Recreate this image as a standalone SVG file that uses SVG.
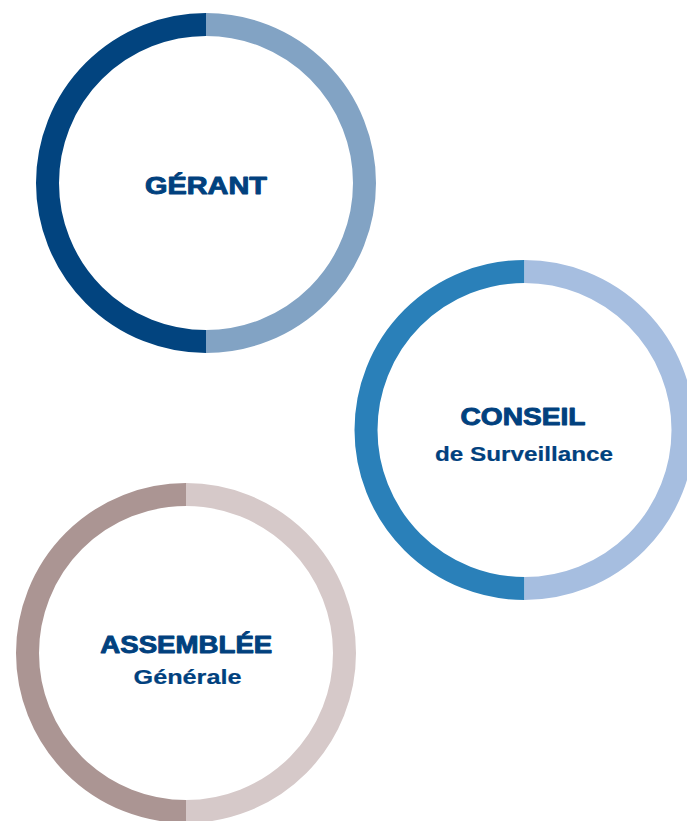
<svg xmlns="http://www.w3.org/2000/svg" width="687" height="821" viewBox="0 0 687 821">
<style>
.ring{fill:none;stroke-width:23}
.t{fill:#01417e;text-anchor:middle;font-family:"Liberation Sans",Arimo,sans-serif}
.h{font-size:23px;font-weight:700;stroke:#01417e;stroke-width:0.9;stroke-linejoin:round}
.s{font-size:21px;font-weight:700;stroke:#01417e;stroke-width:0.2}
</style>
<rect width="687" height="821" fill="#ffffff"/>
<g id="gerant">
<path class="ring" stroke="#02447f" d="M206,24.5 A158.5,158.5 0 0 0 206,341.5"/>
<path class="ring" stroke="#82a3c4" d="M206,24.5 A158.5,158.5 0 0 1 206,341.5"/>
<text class="t h" x="206" y="193.5" textLength="122" lengthAdjust="spacingAndGlyphs">GÉRANT</text>
</g>
<g id="conseil">
<path class="ring" stroke="#2a80b9" d="M524.5,271.5 A158.5,158.5 0 0 0 524.5,588.5"/>
<path class="ring" stroke="#a6bee0" d="M524.5,271.5 A158.5,158.5 0 0 1 524.5,588.5"/>
<text class="t h" x="523" y="424.5" textLength="125" lengthAdjust="spacingAndGlyphs">CONSEIL</text>
<text class="t s" x="524" y="460.5" textLength="178" lengthAdjust="spacingAndGlyphs">de Surveillance</text>
</g>
<g id="assemblee">
<path class="ring" stroke="#ab9593" d="M186,494.5 A158.5,158.5 0 0 0 186,811.5"/>
<path class="ring" stroke="#d6c9c9" d="M186,494.5 A158.5,158.5 0 0 1 186,811.5"/>
<text class="t h" x="186.3" y="652.5" textLength="172" lengthAdjust="spacingAndGlyphs">ASSEMBLÉE</text>
<text class="t s" x="187.5" y="683.5" textLength="108" lengthAdjust="spacingAndGlyphs">Générale</text>
</g>
<g id="connectors"/>
</svg>
